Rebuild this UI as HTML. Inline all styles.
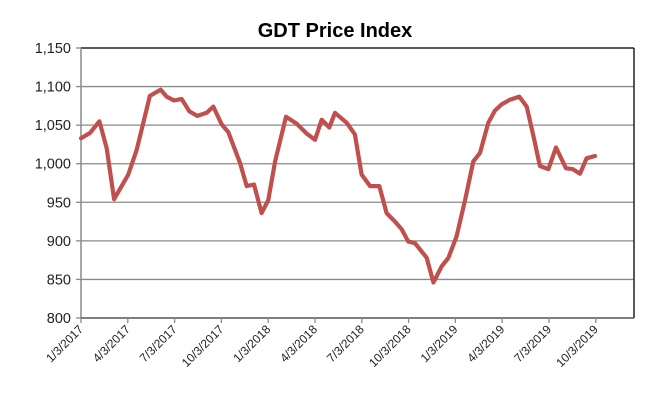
<!DOCTYPE html>
<html><head><meta charset="utf-8"><style>
html,body{margin:0;padding:0;background:#fff;}
svg{display:block;font-family:"Liberation Sans",Arial,sans-serif;}
</style></head><body>
<svg id="chart" width="654" height="400">
<text x="335" y="37" text-anchor="middle" font-size="20" font-weight="bold" fill="#000">GDT Price Index</text>
<g id="grid"></g><g id="axes"></g><g id="series"></g>
</svg>
<script>
const yTicks = [800, 850, 900, 950, 1000, 1050, 1100, 1150];
const xTickLabels = ["1/3/2017","4/3/2017","7/3/2017","10/3/2017","1/3/2018","4/3/2018","7/3/2018","10/3/2018","1/3/2019","4/3/2019","7/3/2019","10/3/2019"];
const xTickMonths = [0,3,6,9,12,15,18,21,24,27,30,33];
const monthsSinceStart = [0,0.58,1.18,1.65,2.12,3.03,3.57,4.42,5.11,5.49,5.96,6.45,6.94,7.46,8.06,8.48,9.02,9.44,10.19,10.62,11.09,11.58,12.01,12.44,13.14,13.82,14.47,15.0,15.43,15.92,16.28,17.03,17.56,17.99,18.53,19.12,19.59,20.13,20.56,20.98,21.41,22.16,22.59,23.12,23.55,24.08,24.62,25.15,25.58,26.11,26.54,26.97,27.5,28.1,28.57,29.0,29.42,29.96,30.45,31.09,31.52,31.99,32.41,32.95];
const indexValues = [1033,1040,1055,1020,954,986,1018,1088,1096,1087,1082,1084,1068,1062,1066,1074,1051,1041,1001,971,973,936,953,1003,1061,1052,1039,1031,1057,1047,1066,1053,1038,986,971,971,936,925,915,899,897,878,846,867,878,906,953,1003,1014,1053,1069,1077,1083,1087,1074,1036,997,993,1021,994,993,987,1007,1010];

const L=81,R=634,T=48,B=318,yMin=800,yMax=1150,xMax=35.45;
const xs=m=>L+(m/xMax)*(R-L);
const ys=v=>B-(v-yMin)/(yMax-yMin)*(B-T);
const NS="http://www.w3.org/2000/svg";
function mk(tag,attrs,parent,text){const e=document.createElementNS(NS,tag);for(const k in attrs)e.setAttribute(k,attrs[k]);if(text!==undefined)e.textContent=text;parent.appendChild(e);return e;}
const gridG=document.getElementById('grid'),axesG=document.getElementById('axes'),seriesG=document.getElementById('series');

yTicks.forEach(v=>{
  const y=ys(v);
  if(v>yMin&&v<yMax){const g=mk('line',{x1:L,x2:R,y1:y,y2:y,stroke:'#8a8a8a','stroke-width':1.3},gridG);
  
  }
  const tk=mk('line',{x1:L-5,x2:L,y1:y,y2:y,stroke:'#8a8a8a','stroke-width':1.3},axesG);
  
  
  const t=mk('text',{x:L-10,y:y+5,'text-anchor':'end','font-size':14.5,fill:'#222'},axesG,v.toLocaleString('en-US'));
  
  
});
const borderTop=mk('line',{x1:L,x2:R,y1:T,y2:T,stroke:'#222','stroke-width':1.5},axesG);


const borderRight=mk('line',{x1:R,x2:R,y1:T,y2:B,stroke:'#222','stroke-width':1.5},axesG);


const yAxisLine=mk('line',{x1:L,x2:L,y1:T,y2:B,stroke:'#8a8a8a','stroke-width':1.5},axesG);


const xAxisLine=mk('line',{x1:L,x2:R,y1:B,y2:B,stroke:'#555','stroke-width':1.5},axesG);



xTickMonths.forEach((m,i)=>{
  const x=xs(m);
  const tk=mk('line',{x1:x,x2:x,y1:B,y2:B+5,stroke:'#8a8a8a','stroke-width':1.3},axesG);
  
  
  const t=mk('text',{x:x+3,y:B+12,'text-anchor':'end','font-size':12,fill:'#222',transform:`rotate(-45 ${x+3} ${B+12})`},axesG,xTickLabels[i]);
  
  
});

const pts=monthsSinceStart.map((m,i)=>xs(m).toFixed(1)+','+ys(indexValues[i]).toFixed(1)).join(' ');
const seriesLine=mk('polyline',{points:pts,fill:'none',stroke:'#c0504d','stroke-width':4.2,'stroke-linejoin':'round','stroke-linecap':'round'},seriesG);


</script>
</body></html>
